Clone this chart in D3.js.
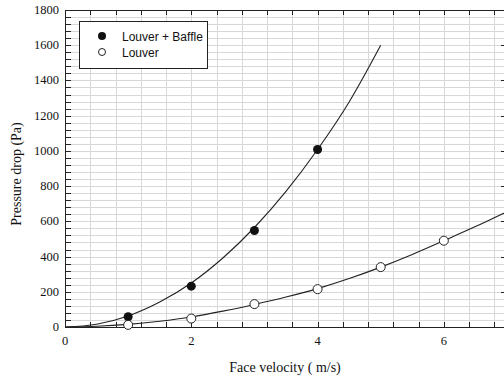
<!DOCTYPE html>
<html>
<head>
<meta charset="utf-8">
<script src="https://cdn.jsdelivr.net/npm/d3@7"></script>
<style>
  body { margin: 0; background: #fff; }
  .tick-label { font-family: "Liberation Serif", "Times New Roman", serif; font-size: 12.5px; fill: #111; }
  .axis-title { font-family: "Liberation Serif", "Times New Roman", serif; font-size: 14px; fill: #111; }
  .legend-text { font-family: "Liberation Sans", Arial, sans-serif; font-size: 12px; fill: #111; }
</style>
</head>
<body>
<div class="container"></div>
<script>
// measured points
var velocity = [1, 2, 3, 4, 5, 6];
var baffleDrop = [58, 232, 548, 1008];
var louverDrop = [12, 48, 130, 215, 340, 490];

// fitted curves
var fitX = [0, 0.5, 1, 1.5, 2, 2.5, 3, 3.5, 4, 4.5, 5, 5.5, 6, 6.5, 7];
var baffleFit = [0, 16, 63, 142, 250, 392, 565, 770, 1008, 1278, 1600];
var louverFit = [0, 4, 15, 33, 57, 90, 128, 170, 218, 275, 340, 412, 490, 570, 655];

var xTicks = [0, 2, 4, 6];
var yTicks = [0, 200, 400, 600, 800, 1000, 1200, 1400, 1600, 1800];

var loadChart = function(){
    const WIDTH = 504;
    const HEIGHT = 381;
    const LEFT = 65, RIGHT = 507, TOP = 10, BOTTOM = 327;

    var xScale = d3.scaleLinear().domain([0, 7]).range([LEFT, RIGHT]);
    var yScale = d3.scaleLinear().domain([0, 1800]).range([BOTTOM, TOP]);

    var svg = d3.select('.container').append('svg')
        .attr('width', WIDTH)
        .attr('height', HEIGHT);

    var xMinor = d3.range(0, 7.01, 0.4);
    var yMinor = d3.range(0, 1800.1, 40);

    // grid
    var grid = svg.append('g').attr('stroke', '#d8d8d8').attr('stroke-width', 1);
    grid.selectAll('.gx').data(xMinor.slice(1)).enter().append('line')
        .attr('x1', function(d){ return Math.round(xScale(d)) + 0.5; })
        .attr('x2', function(d){ return Math.round(xScale(d)) + 0.5; })
        .attr('y1', TOP).attr('y2', BOTTOM);
    grid.selectAll('.gy').data(yMinor.slice(1, -1)).enter().append('line')
        .attr('y1', function(d){ return Math.round(yScale(d)) + 0.5; })
        .attr('y2', function(d){ return Math.round(yScale(d)) + 0.5; })
        .attr('x1', LEFT).attr('x2', RIGHT);

    // frame
    svg.append('rect')
        .attr('x', LEFT + 0.5).attr('y', TOP + 0.5)
        .attr('width', RIGHT - LEFT).attr('height', BOTTOM - TOP)
        .attr('fill', 'none').attr('stroke', '#222').attr('stroke-width', 1);

    // inward ticks on all four sides
    var ticks = svg.append('g').attr('stroke', '#222').attr('stroke-width', 1);
    ticks.selectAll('.tb').data(xMinor).enter().append('line')
        .attr('x1', function(d){ return Math.round(xScale(d)) + 0.5; })
        .attr('x2', function(d){ return Math.round(xScale(d)) + 0.5; })
        .attr('y1', BOTTOM).attr('y2', BOTTOM - 5);
    ticks.selectAll('.tt').data(xMinor).enter().append('line')
        .attr('x1', function(d){ return Math.round(xScale(d)) + 0.5; })
        .attr('x2', function(d){ return Math.round(xScale(d)) + 0.5; })
        .attr('y1', TOP).attr('y2', TOP + 5);
    ticks.selectAll('.tl').data(yMinor).enter().append('line')
        .attr('y1', function(d){ return Math.round(yScale(d)) + 0.5; })
        .attr('y2', function(d){ return Math.round(yScale(d)) + 0.5; })
        .attr('x1', LEFT).attr('x2', LEFT + 6);
    ticks.selectAll('.tr').data(yTicks).enter().append('line')
        .attr('y1', function(d){ return Math.round(yScale(d)) + 0.5; })
        .attr('y2', function(d){ return Math.round(yScale(d)) + 0.5; })
        .attr('x1', RIGHT).attr('x2', RIGHT - 6);

    // tick labels
    svg.selectAll('.xl').data(xTicks).enter().append('text')
        .attr('class', 'tick-label')
        .attr('x', function(d){ return xScale(d); })
        .attr('y', BOTTOM + 18)
        .attr('text-anchor', 'middle')
        .text(function(d){ return d; });
    svg.selectAll('.yl').data(yTicks).enter().append('text')
        .attr('class', 'tick-label')
        .attr('x', LEFT - 6)
        .attr('y', function(d){ return yScale(d) + 4; })
        .attr('text-anchor', 'end')
        .text(function(d){ return d; });

    // axis titles
    svg.append('text').attr('class', 'axis-title')
        .attr('x', 285).attr('y', 372)
        .attr('text-anchor', 'middle')
        .text('Face velocity ( m/s)');
    svg.append('text').attr('class', 'axis-title')
        .attr('transform', 'translate(21, 174) rotate(-90)')
        .attr('text-anchor', 'middle')
        .text('Pressure drop (Pa)');

    // fitted lines
    var line = d3.line()
        .x(function(d){ return xScale(d[0]); })
        .y(function(d){ return yScale(d[1]); })
        .curve(d3.curveMonotoneX);

    var chart = svg.append('g');
    chart.append('path')
        .attr('d', line(d3.zip(fitX, baffleFit)))
        .attr('fill', 'none').attr('stroke', '#222').attr('stroke-width', 1.1);
    chart.append('path')
        .attr('d', line(d3.zip(fitX, louverFit)))
        .attr('fill', 'none').attr('stroke', '#222').attr('stroke-width', 1.1);

    // markers
    chart.selectAll('.pb').data(d3.zip(velocity, baffleDrop)).enter().append('circle')
        .attr('cx', function(d){ return xScale(d[0]); })
        .attr('cy', function(d){ return yScale(d[1]); })
        .attr('r', 4.5).attr('fill', '#111');
    chart.selectAll('.pl').data(d3.zip(velocity, louverDrop)).enter().append('circle')
        .attr('cx', function(d){ return xScale(d[0]); })
        .attr('cy', function(d){ return yScale(d[1]); })
        .attr('r', 4.5).attr('fill', '#fff').attr('stroke', '#222').attr('stroke-width', 1);

    // legend
    var legend = svg.append('g');
    legend.append('rect')
        .attr('x', 79.5).attr('y', 21.5).attr('width', 128).attr('height', 47)
        .attr('fill', '#fff').attr('stroke', '#222').attr('stroke-width', 1);
    legend.append('circle').attr('cx', 102).attr('cy', 36).attr('r', 4).attr('fill', '#111');
    legend.append('circle').attr('cx', 102).attr('cy', 52).attr('r', 3.5)
        .attr('fill', '#fff').attr('stroke', '#222').attr('stroke-width', 1);
    legend.append('text').attr('class', 'legend-text').attr('x', 122).attr('y', 41).text('Louver + Baffle');
    legend.append('text').attr('class', 'legend-text').attr('x', 122).attr('y', 57).text('Louver');
};

window.onload = loadChart;
</script>
</body>
</html>
